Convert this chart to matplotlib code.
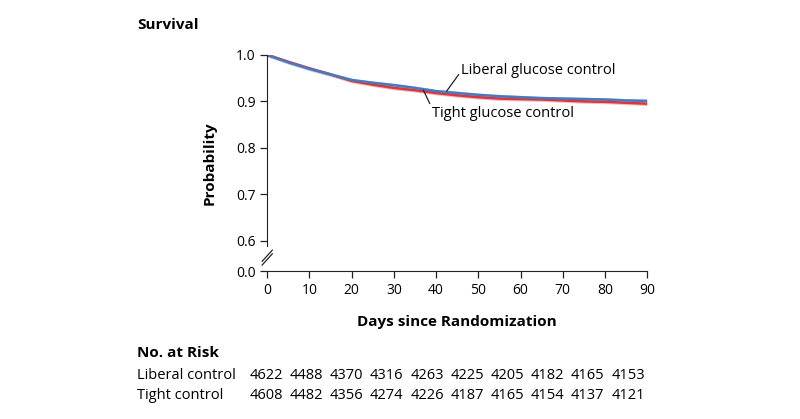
import numpy as np
import matplotlib.pyplot as plt

plt.rcParams['font.family'] = ['Open Sans', 'DejaVu Sans']

days = [0, 5, 10, 15, 20, 25, 30, 35, 40, 45, 50, 55, 60, 65, 70, 75, 80, 85, 90]
liberal = [1.0, 0.984, 0.970, 0.958, 0.946, 0.940, 0.935, 0.929, 0.922, 0.918,
           0.914, 0.911, 0.909, 0.907, 0.906, 0.905, 0.904, 0.902, 0.901]
tight = [1.0, 0.985, 0.971, 0.958, 0.944, 0.936, 0.929, 0.924, 0.918, 0.913,
         0.909, 0.906, 0.905, 0.904, 0.902, 0.900, 0.899, 0.897, 0.895]
band = 0.004

risk_days = [0, 10, 20, 30, 40, 50, 60, 70, 80, 90]
risk_liberal = [4622, 4488, 4370, 4316, 4263, 4225, 4205, 4182, 4165, 4153]
risk_tight = [4608, 4482, 4356, 4274, 4226, 4187, 4165, 4154, 4137, 4121]

YBOT = 0.535  # where the "0.0" tick sits below the axis break

fig = plt.figure(figsize=(8, 4.19), dpi=100)
ax = fig.add_axes([0.334, 0.353, 0.475, 0.516])

for vals, col, bcol in [(tight, '#d9363e', '#f4a9ad'), (liberal, '#4a78b8', '#a9c4e8')]:
    v = np.array(vals)
    ax.fill_between(days, v - band, v + band, color=bcol, lw=0, alpha=0.8)
    ax.plot(days, v, color=col, lw=1.8)

ax.set_xlim(0, 90)
ax.set_ylim(YBOT, 1.0)
ax.set_xticks(range(0, 91, 10))
ax.set_yticks([YBOT, 0.6, 0.7, 0.8, 0.9, 1.0])
ax.set_yticklabels(['0.0', '0.6', '0.7', '0.8', '0.9', '1.0'])
for s in ['top', 'right']:
    ax.spines[s].set_visible(False)
ax.tick_params(labelsize=10, length=5, width=0.9, color='#222222')
ax.spines['left'].set_bounds(0.59, 1.0)
ax.spines['left'].set_color('#222222')
ax.spines['bottom'].set_color('#222222')

# axis break marks
kw = dict(transform=ax.transData, color='#222222', lw=0.9, clip_on=False)
ax.plot([-1.2, 1.2], [0.556, 0.580], **kw)
ax.plot([-1.2, 1.2], [0.548, 0.572], **kw)

ax.set_xlabel('Days since Randomization', fontsize=11, fontweight='bold', labelpad=12)
ax.set_ylabel('Probability', fontsize=11, fontweight='bold', labelpad=14)

ax.annotate('Liberal glucose control', xy=(42.5, 0.922), xytext=(46, 0.966),
            fontsize=10.5, ha='left', va='center',
            arrowprops=dict(arrowstyle='-', color='#222222', lw=0.9,
                            shrinkA=0, shrinkB=0, relpos=(0, 0.5)))
ax.annotate('Tight glucose control', xy=(37, 0.924), xytext=(39, 0.873),
            fontsize=10.5, ha='left', va='center',
            arrowprops=dict(arrowstyle='-', color='#222222', lw=0.9,
                            shrinkA=0, shrinkB=0, relpos=(0, 0.9)))

fig.text(0.171, 0.94, 'Survival', fontsize=11, fontweight='bold', va='center')

# number at risk table
fig.text(0.171, 0.157, 'No. at Risk', fontsize=11, fontweight='bold', va='center')
fig.text(0.171, 0.105, 'Liberal control', fontsize=10.5, va='center')
fig.text(0.171, 0.057, 'Tight control', fontsize=10.5, va='center')
x0, x1 = 266 / 800, 628 / 800
for i, d in enumerate(risk_days):
    xf = x0 + (x1 - x0) * d / 90
    fig.text(xf, 0.105, str(risk_liberal[i]), fontsize=10.5, ha='center', va='center')
    fig.text(xf, 0.057, str(risk_tight[i]), fontsize=10.5, ha='center', va='center')

fig.savefig('out.png', dpi=100)
